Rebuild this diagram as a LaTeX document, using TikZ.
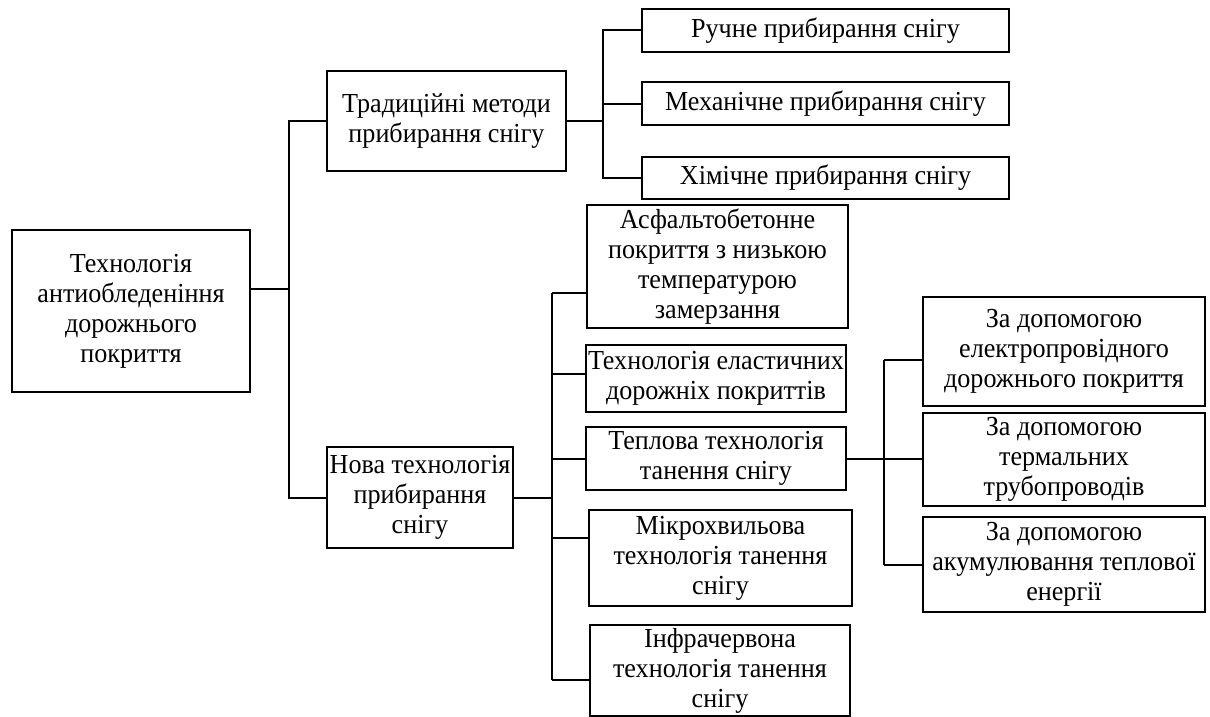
\documentclass[tikz,border=0pt]{standalone}
\usepackage{fontspec}
\setmainfont[FakeStretch=0.95]{Liberation Serif}
\begin{document}
\begin{tikzpicture}[x=1pt,y=-1pt,
  box/.style={draw,line width=2pt,align=center,inner sep=0pt,font=\fontsize{27.5}{30}\selectfont},
  link/.style={line width=2pt}]
\useasboundingbox (0,0) rectangle (1210,717);
% nodes
\node[box,minimum width=238,minimum height=162] (root) at (131,311) {Технологія\\антиобледеніння\\дорожнього\\покриття};
\node[box,minimum width=239,minimum height=100] (trad) at (446.5,121) {Традиційні методи\\прибирання снігу};
\node[box,minimum width=186,minimum height=101] (nova) at (420,497.5) {Нова технологія\\прибирання\\снігу};
\node[box,minimum width=367,minimum height=43] (r1) at (825.5,30.5) {Ручне прибирання снігу};
\node[box,minimum width=367,minimum height=43] (r2) at (825.5,103.5) {Механічне прибирання снігу};
\node[box,minimum width=367,minimum height=42] (r3) at (825.5,178) {Хімічне прибирання снігу};
\node[box,minimum width=261,minimum height=123] (a1) at (717.5,266.5) {Асфальтобетонне\\покриття з низькою\\температурою\\замерзання};
\node[box,minimum width=260,minimum height=67] (a2) at (716,378.5) {Технологія еластичних\\дорожніх покриттів};
\node[box,minimum width=260,minimum height=63] (a3) at (716,458.5) {Теплова технологія\\танення снігу};
\node[box,minimum width=263,minimum height=96] (a4) at (720.5,558) {Мікрохвильова\\технологія танення\\снігу};
\node[box,minimum width=260,minimum height=91] (a5) at (720,670.5) {Інфрачервона\\технологія танення\\снігу};
\node[box,minimum width=282,minimum height=109] (b1) at (1064,351.5) {За допомогою\\електропровідного\\дорожнього покриття};
\node[box,minimum width=282,minimum height=93] (b2) at (1064,459.5) {За допомогою\\термальних\\трубопроводів};
\node[box,minimum width=282,minimum height=95] (b3) at (1064,564.5) {За допомогою\\акумулювання теплової\\енергії};
% junctions
\coordinate (J1) at (289,289);
\coordinate (J2) at (603,121);
\coordinate (J3) at (552,497.5);
\coordinate (k1) at (552,293);
\coordinate (k2) at (552,374);
\coordinate (k3) at (552,458.5);
\coordinate (k4) at (552,538);
\coordinate (k5) at (552,680);
\coordinate (J4) at (884,458.5);
\coordinate (m1) at (884,360);
\coordinate (m3) at (884,565);
% connectors
\draw[link] (root.east |- J1) -- (J1);
\draw[link] (trad.west) -| (J1) |- (nova.west);
\draw[link] (trad.east) -- (J2);
\draw[link] (r1.west) -| (J2) |- (r3.west);
\draw[link] (J2 |- r2.west) -- (r2.west);
\draw[link] (nova.east) -- (J3);
\draw[link] (k1) -- (k5);
\draw[link] (k1) -- (k1 -| a1.west);
\draw[link] (k2) -- (k2 -| a2.west);
\draw[link] (k3) -- (k3 -| a3.west);
\draw[link] (k4) -- (k4 -| a4.west);
\draw[link] (k5) -- (k5 -| a5.west);
\draw[link] (a3.east) -- (J4) -- (J4 -| b2.west);
\draw[link] (m1) -- (m3);
\draw[link] (m1) -- (m1 -| b1.west);
\draw[link] (m3) -- (m3 -| b3.west);
\end{tikzpicture}
\end{document}
